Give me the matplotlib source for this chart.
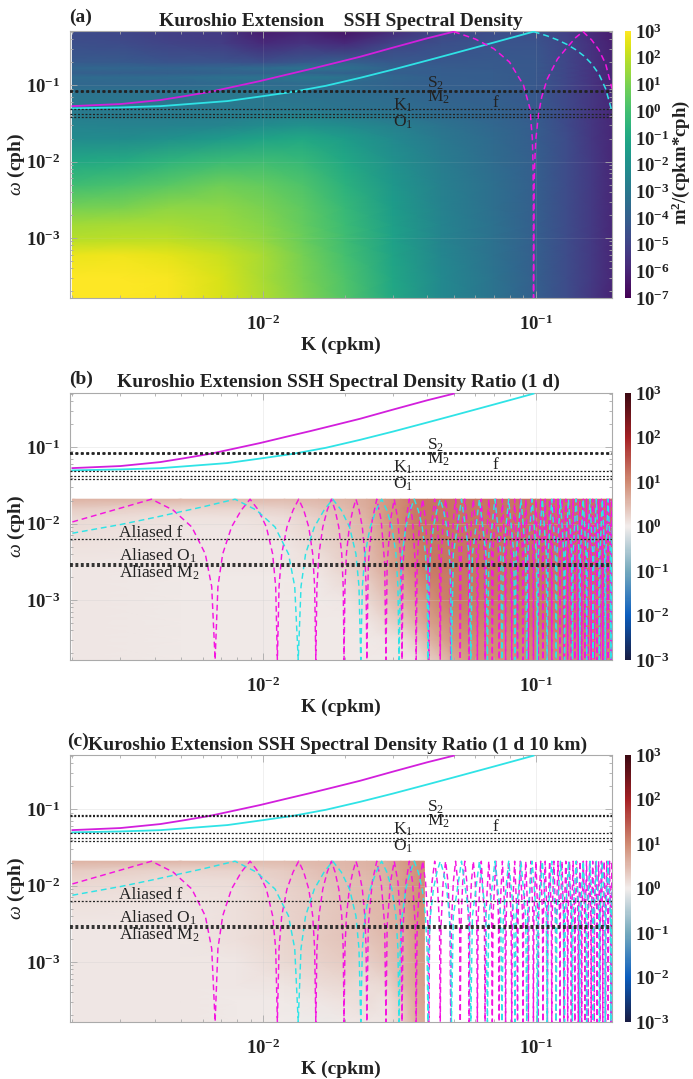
import matplotlib
matplotlib.use("Agg")
import matplotlib.pyplot as plt
import numpy as np
from matplotlib.colors import LinearSegmentedColormap, LogNorm

plt.rcParams['font.family'] = ['Liberation Serif', 'DejaVu Serif']
plt.rcParams['mathtext.fontset'] = 'custom'
plt.rcParams['mathtext.rm'] = 'Liberation Serif'
plt.rcParams['mathtext.bf'] = 'Liberation Serif:bold'
plt.rcParams['mathtext.it'] = 'Liberation Serif:italic'

W, H = 693, 1079

# --- panel (a): log10 of the spectral density
k_a = [0.002, 0.003, 0.0045, 0.007, 0.01, 0.014, 0.02, 0.03, 0.045, 0.07, 0.1, 0.13, 0.16, 0.19]
w_a = [1.6e-4, 3e-4, 6e-4, 9e-4, 1.1e-3, 1.5e-3, 2.5e-3, 5e-3, 1e-2, 2e-2, 3e-2, 5e-2, 8e-2, 0.105, 0.127, 0.145, 0.167, 0.2, 0.35, 0.52]
psd_a = [
    [3.0, 3.0, 2.9, 2.4, 1.8, 1.1, 0.3, -1.0, -2.3, -3.2, -4.0, -4.7, -5.4, -6.0],
    [3.0, 3.0, 2.9, 2.4, 1.7, 1.0, 0.2, -1.1, -2.3, -3.2, -4.0, -4.7, -5.3, -5.9],
    [2.7, 2.8, 2.6, 2.2, 1.7, 0.9, 0.0, -1.2, -2.4, -3.3, -4.0, -4.7, -5.3, -5.9],
    [2.0, 2.1, 2.1, 1.8, 1.4, 0.7, -0.1, -1.3, -2.5, -3.3, -4.0, -4.7, -5.3, -5.9],
    [1.8, 1.9, 1.9, 1.6, 1.3, 0.7, -0.1, -1.3, -2.5, -3.3, -4.0, -4.7, -5.3, -5.9],
    [1.6, 1.7, 1.7, 1.5, 1.2, 0.6, -0.2, -1.4, -2.5, -3.3, -4.0, -4.7, -5.3, -5.9],
    [0.9, 1.0, 1.3, 1.3, 1.0, 0.5, -0.3, -1.5, -2.6, -3.4, -4.0, -4.7, -5.3, -5.9],
    [-0.1, 0.1, 0.4, 0.8, 0.6, 0.2, -0.6, -1.7, -2.7, -3.4, -4.0, -4.7, -5.3, -5.9],
    [-1.0, -0.9, -0.5, -0.2, -0.1, -0.3, -1.0, -2.0, -2.8, -3.5, -4.0, -4.7, -5.3, -5.9],
    [-2.2, -2.2, -2.0, -1.6, -1.2, -1.0, -1.5, -2.3, -3.0, -3.6, -4.1, -4.7, -5.4, -5.9],
    [-2.5, -2.6, -2.6, -2.5, -2.2, -2.0, -2.2, -2.7, -3.2, -3.7, -4.1, -4.8, -5.4, -5.9],
    [-3.0, -3.0, -3.0, -2.9, -3.0, -3.0, -3.2, -3.4, -3.7, -3.9, -4.2, -4.8, -5.4, -5.9],
    [-3.2, -3.2, -3.2, -3.0, -3.1, -3.3, -3.4, -3.6, -3.9, -4.0, -4.3, -4.9, -5.4, -5.9],
    [-3.7, -3.7, -3.7, -3.6, -3.6, -3.5, -3.6, -3.9, -4.0, -4.1, -4.3, -4.9, -5.5, -6.0],
    [-3.5, -3.5, -3.5, -3.3, -3.2, -3.0, -3.2, -3.7, -4.0, -4.1, -4.3, -4.9, -5.5, -6.0],
    [-4.0, -4.0, -4.0, -3.9, -3.9, -3.8, -3.9, -4.0, -4.1, -4.1, -4.3, -4.9, -5.5, -6.0],
    [-3.7, -3.7, -3.8, -3.7, -3.5, -3.2, -3.3, -3.9, -4.1, -4.2, -4.3, -4.9, -5.5, -6.0],
    [-4.2, -4.2, -4.4, -4.4, -4.6, -4.3, -4.0, -4.2, -4.3, -4.2, -4.3, -4.9, -5.5, -6.0],
    [-4.6, -4.7, -5.0, -5.2, -5.8, -5.5, -5.8, -5.0, -4.6, -4.4, -4.4, -5.0, -5.6, -6.1],
    [-4.7, -4.9, -5.2, -5.3, -6.3, -6.0, -6.5, -5.8, -4.9, -4.7, -4.6, -5.2, -5.8, -6.2],
]

# --- panels (b), (c): log10 of the ratio
w_ratio = [1.65e-4, 3e-4, 5e-4, 1e-3, 2e-3, 3e-3, 5e-3, 8e-3, 1.2e-2, 1.6e-2, 2.08e-2]
k_b = [0.002, 0.005, 0.008, 0.012, 0.016, 0.02, 0.024, 0.028, 0.032, 0.036, 0.04, 0.045, 0.05, 0.06, 0.08, 0.1, 0.14, 0.19]
ratio_b = [
    [.05, .04, .04, .03, .03, .03, .04, .04, .05, .05, .30, .45, .70, .95, .95, 1.0, 1.0, 1.0],
    [.05, .04, .04, .03, .03, .04, .04, .05, .10, .30, .55, .75, .90, 1.0, 1.0, 1.05, 1.05, 1.05],
    [.05, .04, .04, .03, .03, .04, .05, .20, .35, .55, .75, .90, 1.0, 1.1, 1.1, 1.15, 1.15, 1.15],
    [.05, .04, .04, .03, .03, .05, .20, .40, .60, .75, .90, 1.1, 1.15, 1.15, 1.15, 1.15, 1.15, 1.15],
    [.05, .04, .04, .04, .05, .20, .35, .60, .75, .95, 1.1, 1.15, 1.15, 1.2, 1.2, 1.2, 1.2, 1.2],
    [.07, .05, .05, .05, .10, .30, .45, .70, .90, 1.05, 1.15, 1.2, 1.2, 1.2, 1.2, 1.2, 1.2, 1.2],
    [.10, .05, .05, .07, .20, .35, .50, .75, .95, 1.1, 1.2, 1.2, 1.2, 1.2, 1.2, 1.2, 1.2, 1.2],
    [.15, .07, .07, .10, .25, .40, .55, .80, 1.0, 1.15, 1.2, 1.2, 1.2, 1.2, 1.2, 1.2, 1.2, 1.2],
    [.20, .10, .10, .15, .30, .45, .60, .85, 1.0, 1.15, 1.2, 1.2, 1.2, 1.2, 1.2, 1.2, 1.2, 1.2],
    [.35, .25, .25, .30, .40, .50, .65, .85, 1.0, 1.15, 1.2, 1.2, 1.2, 1.2, 1.2, 1.2, 1.2, 1.2],
    [.60, .55, .50, .50, .55, .60, .70, .85, 1.0, 1.15, 1.2, 1.2, 1.2, 1.2, 1.2, 1.2, 1.2, 1.2],
]
k_c = [0.002, 0.005, 0.008, 0.012, 0.016, 0.02, 0.024, 0.028, 0.032, 0.036, 0.039]
ratio_c = [
    [.07, .05, .04, .00, -.03, .03, .05, .06, .25, .60, .70],
    [.05, .05, .04, .03, .05, .10, .15, .08, .35, .65, .75],
    [.05, .05, .05, .08, .15, .20, .15, .20, .50, .70, .80],
    [.05, .05, .07, .20, .28, .35, .30, .40, .55, .75, .85],
    [.05, .07, .12, .25, .35, .40, .42, .50, .60, .80, .90],
    [.07, .07, .12, .25, .35, .42, .45, .55, .65, .85, .95],
    [.10, .07, .12, .25, .35, .42, .50, .55, .70, .90, 1.0],
    [.15, .10, .12, .25, .35, .45, .50, .55, .75, .90, 1.0],
    [.25, .15, .18, .30, .40, .45, .50, .60, .75, .90, 1.0],
    [.35, .25, .28, .35, .45, .50, .55, .60, .75, .90, 1.0],
    [.60, .55, .50, .50, .55, .55, .60, .65, .80, .95, 1.0],
]

# --- dispersion curves
mag_k = [0.002, 0.003, 0.0042, 0.0052, 0.0064, 0.008, 0.00975, 0.012, 0.0149, 0.0185, 0.0227, 0.03, 0.04, 0.05]
mag_w = [0.0531, 0.0565, 0.0637, 0.072, 0.0817, 0.097, 0.113, 0.135, 0.162, 0.196, 0.235, 0.31, 0.41, 0.5]
cyan_k = [0.002, 0.003, 0.0042, 0.0055, 0.0074, 0.0098, 0.0129, 0.017, 0.0227, 0.03, 0.04, 0.05, 0.07, 0.085, 0.098]
cyan_w = [0.0496, 0.051, 0.053, 0.057, 0.0618, 0.071, 0.0817, 0.098, 0.1246, 0.16, 0.21, 0.26, 0.36, 0.435, 0.5]

# folded branches above the 1 h Nyquist frequency (panel a)
mag_fold_k = [0.05, 0.06, 0.07, 0.08, 0.09, 0.095, 0.097, 0.0975, 0.0978, 0.098,
              0.0985, 0.099, 0.1, 0.102, 0.105, 0.11, 0.12, 0.13, 0.14, 0.1487, 0.16, 0.17, 0.18, 0.19]
mag_fold_w = [0.5, 0.4, 0.3, 0.2, 0.1, 0.05, 0.02, 0.01, 0.004, 1.65e-4,
              0.005, 0.01, 0.02, 0.04, 0.07, 0.12, 0.22, 0.31, 0.42, 0.5, 0.39, 0.29, 0.19, 0.09]
cyan_fold_k = [0.098, 0.11, 0.12, 0.13, 0.14, 0.15, 0.16, 0.17, 0.18, 0.19]
cyan_fold_w = [0.5, 0.44, 0.39, 0.34, 0.29, 0.24, 0.19, 0.14, 0.09, 0.045]

up5 = [0.0015, 0.004, 0.009, 0.015, 0.0208]
dn5 = [0.015, 0.009, 0.004, 0.0015, 1.65e-4]
up3 = [0.003, 0.011, 0.0208]
dn3 = [0.011, 0.003, 1.65e-4]
cyc4 = [0.004, 0.0208, 0.004, 1.65e-4]

alias_mag_k = [0.002, 0.0025, 0.003, 0.0035, 0.0039,
               0.00468, 0.00548, 0.00614, 0.00648, 0.00667,
               0.00683, 0.00711, 0.00766, 0.00832, 0.00896,
               0.00961, 0.01028, 0.01084, 0.01112, 0.01128,
               0.01144, 0.0117, 0.01223, 0.01288, 0.0135,
               0.01409, 0.0147, 0.0152, 0.01545, 0.0156,
               0.01575, 0.01602, 0.01655, 0.01718, 0.0178,
               0.01836, 0.01894, 0.01942, 0.01966, 0.0198,
               0.01995, 0.0202, 0.0207, 0.02131, 0.0219,
               0.02249, 0.0231, 0.0236, 0.02385, 0.024,
               0.0243, 0.02511, 0.0261, 0.02709, 0.0279, 0.0282,
               0.02849, 0.02929, 0.03025, 0.03121, 0.03201, 0.0323,
               0.03259, 0.03339, 0.03435, 0.03531, 0.03611, 0.0364,
               0.03669, 0.03749, 0.03845, 0.03941, 0.04021, 0.0405,
               0.04079, 0.04159, 0.04255, 0.04351, 0.04431, 0.0446,
               0.04489, 0.04569, 0.04665, 0.04761, 0.04841, 0.0487,
               0.04899, 0.04979, 0.05075, 0.05171, 0.05251, 0.0528,
               0.05309, 0.05389, 0.05485, 0.05581, 0.05661, 0.0569,
               0.05719, 0.05799, 0.05895, 0.05991, 0.06071, 0.061,
               0.0614, 0.06305, 0.06469, 0.0651, 0.0655, 0.06715, 0.06879, 0.0692,
               0.0696, 0.07125, 0.07289, 0.0733, 0.0737, 0.07535, 0.07699, 0.0774,
               0.0778, 0.07945, 0.08109, 0.0815, 0.0819, 0.08355, 0.08519, 0.0856,
               0.086, 0.08765, 0.08929, 0.0897, 0.0901, 0.09175, 0.09339, 0.0938,
               0.0942, 0.09585, 0.09749, 0.0979, 0.0983, 0.09995, 0.10159, 0.102,
               0.1024, 0.10405, 0.10569, 0.1061, 0.1065, 0.10815, 0.10979, 0.1102,
               0.1106, 0.11225, 0.11389, 0.1143, 0.1147, 0.11635, 0.11799, 0.1184,
               0.1188, 0.12045, 0.12209, 0.1225, 0.1229, 0.12455, 0.12619, 0.1266,
               0.127, 0.12865, 0.13029, 0.1307, 0.1311, 0.13275, 0.13439, 0.1348,
               0.1352, 0.13685, 0.13849, 0.1389, 0.1393, 0.14095, 0.14259, 0.143,
               0.1434, 0.14505, 0.14669, 0.1471, 0.1475, 0.14915, 0.15079, 0.1512,
               0.1516, 0.15325, 0.15489, 0.1553, 0.1557, 0.15735, 0.15899, 0.1594,
               0.1598, 0.16145, 0.16309, 0.1635, 0.1639, 0.16555, 0.16719, 0.1676,
               0.168, 0.16965, 0.17129, 0.1717, 0.1721, 0.17375, 0.17539, 0.1758,
               0.1762, 0.17785, 0.17949, 0.1799, 0.1803, 0.18195, 0.18359, 0.184,
               0.1844, 0.18605, 0.18769, 0.1881, 0.1885, 0.19015, 0.19179, 0.1922]
alias_mag_w = ([0.0105, 0.0132, 0.0159, 0.0186, 0.0208] + dn5 + (up5 + dn5) * 4
               + (up3 + dn3) * 9 + cyc4 * 32)

alias_cyan_k = [0.002, 0.003, 0.004, 0.005, 0.006, 0.007, 0.00789,
                0.00945, 0.01106, 0.01239, 0.01306, 0.01345,
                0.01377, 0.01431, 0.01541, 0.01673, 0.018,
                0.01934, 0.02074, 0.02189, 0.02246, 0.0228,
                0.02311, 0.02364, 0.02469, 0.02597, 0.0272,
                0.0284, 0.02965, 0.03068, 0.0312, 0.0315,
                0.0318, 0.03232, 0.03335, 0.0346, 0.0358,
                0.03703, 0.0383, 0.03936, 0.03989, 0.0402,
                0.04051, 0.04104, 0.04209, 0.04337, 0.0446,
                0.04583, 0.0471, 0.04816, 0.04869, 0.049,
                0.0498, 0.05335, 0.0569, 0.0577, 0.0585, 0.06205, 0.0656, 0.0664,
                0.0672, 0.07075, 0.0743, 0.0751, 0.0759, 0.07945, 0.083, 0.0838,
                0.0846, 0.08815, 0.0917, 0.0925, 0.0933, 0.09685, 0.1004, 0.1012,
                0.102, 0.10555, 0.1091, 0.1099, 0.1107, 0.11425, 0.1178, 0.1186,
                0.1194, 0.12295, 0.1265, 0.1273, 0.1281, 0.13165, 0.1352, 0.136,
                0.1368, 0.14035, 0.1439, 0.1447, 0.1455, 0.14905, 0.1526, 0.1534,
                0.1542, 0.15775, 0.1613, 0.1621, 0.1629, 0.16645, 0.17, 0.1708,
                0.1716, 0.17515, 0.1787, 0.1795, 0.1803, 0.18385, 0.1874, 0.1882,
                0.189, 0.19255, 0.1961, 0.1969]
alias_cyan_w = ([0.00747, 0.0097, 0.012, 0.0143, 0.0165, 0.0188, 0.0208] + dn5
                + (up5 + dn5) * 4 + cyc4 * 17)

# --- tidal lines and labels
tide_w = [0.0833, 0.0805, 0.0485, 0.0418, 0.0387]
tide_lw = [1.3, 1.3, 0.9, 0.9, 0.9]
tide_labels = ['S$_2$', 'M$_2$', 'K$_1$', 'O$_1$', 'f']
tide_label_k = [0.0399, 0.0399, 0.03, 0.03, 0.0695]
tide_label_w = [0.094, 0.06, 0.0485, 0.0283, 0.0515]
alias_line_w = [0.0062, 0.00298, 0.00282]
alias_line_lw = [0.9, 1.3, 1.3]
alias_labels = ['Aliased f', 'Aliased O$_1$', 'Aliased M$_2$']
alias_label_w = [0.00669, 0.00325, 0.00195]

balance = LinearSegmentedColormap.from_list('balance_like', [
    '#181c43', '#0c5ebe', '#75aabe', '#f1eceb', '#d08b73', '#a52125', '#3c0912'])


def px_axes(x0, y0, x1, y1):
    return fig.add_axes([x0 / W, 1 - y1 / H, (x1 - x0) / W, (y1 - y0) / H])


def style_axes(ax, grid_alpha):
    ax.set_xscale('log')
    ax.set_yscale('log')
    ax.set_xlim(0.00196, 0.19)
    ax.set_ylim(1.64e-4, 0.51)
    ax.set_xticks([1e-2, 1e-1])
    ax.set_xticklabels([r'$\mathbf{10^{-2}}$', r'$\mathbf{10^{-1}}$'], fontsize=13.5, color='#222222')
    ax.set_yticks([1e-3, 1e-2, 1e-1])
    ax.set_yticklabels([r'$\mathbf{10^{-3}}$', r'$\mathbf{10^{-2}}$', r'$\mathbf{10^{-1}}$'], fontsize=13.5, color='#222222')
    ax.tick_params(which='both', direction='in', top=True, right=True, color='#aaaaaa', width=0.6)
    ax.tick_params(which='major', length=5)
    ax.tick_params(which='minor', length=2.5, labelbottom=False, labelleft=False)
    ax.tick_params(axis='x', which='major', pad=12)
    ax.tick_params(axis='y', which='major', pad=7)
    ax.grid(which='major', color='#cccccc', lw=0.4, alpha=grid_alpha)
    ax.set_axisbelow(False)
    for s in ax.spines.values():
        s.set_color('#aaaaaa')
        s.set_linewidth(0.8)
    ax.set_xlabel('K (cpkm)', fontsize=14, fontweight='bold', labelpad=2, color='#222222')
    ax.set_ylabel(r'$\omega$ (cph)', fontsize=14, fontweight='bold', labelpad=-1, color='#222222')


def draw_lines(ax, aliased, top_lw=None):
    ax.plot(mag_k, mag_w, color='#d21fdc', lw=1.3, zorder=3)
    ax.plot(cyan_k, cyan_w, color='#2fe3e6', lw=1.3, zorder=3)
    if aliased:
        ax.plot(alias_mag_k, alias_mag_w, color='#f415e0', lw=1.05, ls=(0, (4, 2.6)), zorder=3)
        ax.plot(alias_cyan_k, alias_cyan_w, color='#2fe3e6', lw=1.05, ls=(0, (4, 2.6)), zorder=3)
    else:
        ax.plot(mag_fold_k, mag_fold_w, color='#f415e0', lw=1.1, ls=(0, (4, 2.6)), zorder=3)
        ax.plot(cyan_fold_k, cyan_fold_w, color='#2fe3e6', lw=1.1, ls=(0, (4, 2.6)), zorder=3)
    for w, lw in zip(tide_w, tide_lw):
        ax.axhline(w, color='#222222', lw=top_lw if (top_lw and w > 0.06) else lw, ls=(0, (1.6, 1.4)), zorder=4)
    for lab, k, w in zip(tide_labels, tide_label_k, tide_label_w):
        ax.text(k, w, lab, fontsize=12.5, color='#222222', zorder=5)
    if aliased:
        for w, lw in zip(alias_line_w, alias_line_lw):
            ax.axhline(w, color='#222222', lw=lw, ls=(0, (1.6, 1.4)), zorder=4)
        for lab, w in zip(alias_labels, alias_label_w):
            ax.text(0.00297, w, lab, fontsize=12.5, color='#222222', zorder=5)


def draw_cbar(mesh, y0, y1, decades):
    cax = px_axes(625, y0, 631, y1)
    cb = fig.colorbar(mesh, cax=cax)
    cb.set_ticks(decades)
    cb.set_ticklabels([r'$\mathbf{10^{%d}}$' % round(np.log10(d)) for d in decades])
    cb.ax.minorticks_off()
    cb.ax.tick_params(length=0, labelsize=13.5, pad=3, labelcolor='#222222')
    cb.outline.set_visible(False)
    return cb


fig = plt.figure(figsize=(W / 100, H / 100), dpi=100)

# (a)
ax = px_axes(70, 31, 612, 298)
m = ax.pcolormesh(k_a, w_a, 10.0 ** np.array(psd_a), cmap='viridis', shading='gouraud',
                  norm=LogNorm(1e-7, 1e3), rasterized=True)
style_axes(ax, 0.2)
draw_lines(ax, False)
cb = draw_cbar(m, 31, 298, [10.0 ** e for e in range(-7, 4)])
fig.text(681 / W, 1 - 163 / H, r'm$^{\mathbf{2}}$/(cpkm*cph)', rotation=90, fontsize=13.5,
         fontweight='bold', ha='center', va='center', color='#222222')
fig.text(341 / W, 1 - 21 / H, 'Kuroshio Extension    SSH Spectral Density', fontsize=14,
         fontweight='bold', ha='center', va='center', color='#222222')
fig.text(69 / W, 1 - 17 / H, '(a)', fontsize=14, fontweight='bold', va='center', color='#222222')

# (b)
ax = px_axes(70, 393, 612, 660)
m = ax.pcolormesh(k_b, w_ratio, 10.0 ** np.array(ratio_b), cmap=balance, shading='gouraud',
                  norm=LogNorm(1e-3, 1e3), rasterized=True)
style_axes(ax, 0.5)
draw_lines(ax, True)
draw_cbar(m, 393, 660, [10.0 ** e for e in range(-3, 4)])
fig.text(338 / W, 1 - 382 / H, 'Kuroshio Extension SSH Spectral Density Ratio (1 d)', fontsize=14,
         fontweight='bold', ha='center', va='center', color='#222222')
fig.text(69 / W, 1 - 379 / H, '(b)', fontsize=14, fontweight='bold', va='center', color='#222222')

# (c)
ax = px_axes(70, 755, 612, 1022)
m = ax.pcolormesh(k_c, w_ratio, 10.0 ** np.array(ratio_c), cmap=balance, shading='gouraud',
                  norm=LogNorm(1e-3, 1e3), rasterized=True)
style_axes(ax, 0.5)
draw_lines(ax, True, top_lw=0.9)
draw_cbar(m, 755, 1022, [10.0 ** e for e in range(-3, 4)])
fig.text(338 / W, 1 - 745 / H, 'Kuroshio Extension SSH Spectral Density Ratio (1 d 10 km)', fontsize=14,
         fontweight='bold', ha='center', va='center', color='#222222')
fig.text(67 / W, 1 - 741 / H, '(c)', fontsize=14, fontweight='bold', va='center', color='#222222')

fig.savefig('out.png', dpi=100)
